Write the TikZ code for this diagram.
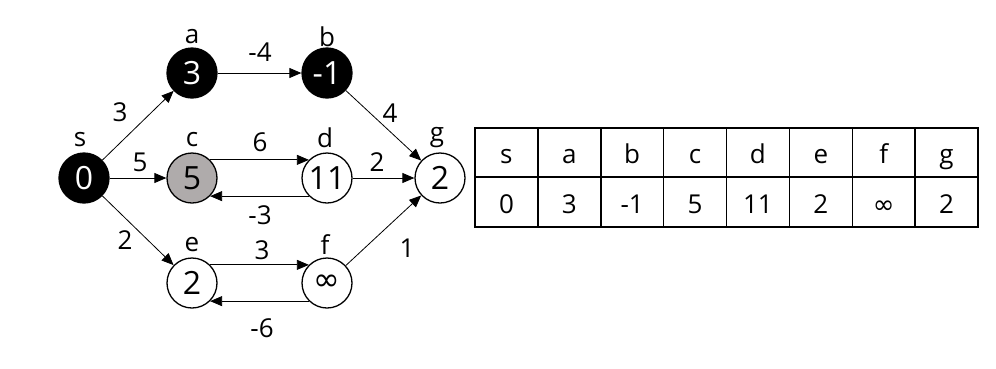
\documentclass[tikz,border=0pt]{standalone}
\usepackage{fontspec}
\setmainfont{Open Sans}
\newfontfamily\symfont{DejaVu Sans}
\usetikzlibrary{arrows.meta}
\definecolor{cgray}{RGB}{175,171,171}
\newcommand{\infsym}{{\symfont ∞}}
\begin{document}
\begin{tikzpicture}[x=1pt,y=-1pt,
  vtx/.style={circle, draw, line width=1.3pt, minimum size=50pt, inner sep=0pt, font=\fontsize{32}{32}\selectfont},
  blk/.style={vtx, fill=black, text=white},
  gry/.style={vtx, fill=cgray},
  wht/.style={vtx, fill=white},
  lbl/.style={font=\fontsize{26}{26}\selectfont, inner sep=0pt},
  tcell/.style={font=\fontsize{26}{26}\selectfont, inner sep=0pt, anchor=base},
  arr/.style={-{Triangle[length=12pt,width=10pt]}, line width=0.8pt}]
\useasboundingbox (0,0) rectangle (996,368);
% vertices
\node[blk] (s) at (84,178) {0};
\node[blk] (a) at (192,73) {3};
\node[blk] (b) at (327,73) {-1};
\node[gry] (c) at (192,178) {5};
\node[wht] (d) at (327,178) {11};
\node[wht] (g) at (440,178) {2};
\node[wht] (e) at (192,283) {2};
\node[wht] (f) at (327,283) {\infsym};
% vertex names
\node[lbl] (ls) at (80,140) {s};
\node[lbl] (la) at (192,37) {a};
\node[lbl] (lb) at (327,37) {b};
\node[lbl] (lc) at (192,140) {c};
\node[lbl] (ld) at (325,138) {d};
\node[lbl] (lg) at (437,138) {g};
\node[lbl] (le) at (192,245) {e};
\node[lbl] (lf) at (325,245) {f};
% edges
\draw[arr] (s) -- (a);
\draw[arr] (s) -- (c);
\draw[arr] (s) -- (e);
\draw[arr] (a) -- (b);
\draw[arr] (b) -- (g);
\draw[arr] (c.north east) -- (d.north west);
\draw[arr] (d.south west) -- (c.south east);
\draw[arr] (d) -- (g);
\draw[arr] (e.north east) -- (f.north west);
\draw[arr] (f.south west) -- (e.south east);
\draw[arr] (f) -- (g);
% edge weights
\node[lbl] (w1) at (120,112) {3};
\node[lbl] (w2) at (260,52) {-4};
\node[lbl] (w3) at (390,113) {4};
\node[lbl] (w4) at (140,162) {5};
\node[lbl] (w5) at (260,142) {6};
\node[lbl] (w6) at (377,162) {2};
\node[lbl] (w7) at (260,215) {-3};
\node[lbl] (w8) at (125,240) {2};
\node[lbl] (w9) at (262,250) {3};
\node[lbl] (w10) at (407,248) {1};
\node[lbl] (w11) at (262,328) {-6};
% table
\draw[line width=1.5pt] (475,128) rectangle (978,227);
\draw[line width=1.5pt] (475,177) -- (978,177);
\foreach \k in {1,...,7} {
  \draw[line width=1.5pt] ({475+\k*62.875},128) -- ({475+\k*62.875},227);
}
\foreach \t/\v [count=\k from 0] in {s/0,a/3,b/-1,c/5,d/11,e/2,f/\infsym,g/2} {
  \node[tcell] (h\k) at ({475+(\k+0.5)*62.875},163) {\t};
  \node[tcell] (v\k) at ({475+(\k+0.5)*62.875},213) {\v};
}
\end{tikzpicture}
\end{document}
